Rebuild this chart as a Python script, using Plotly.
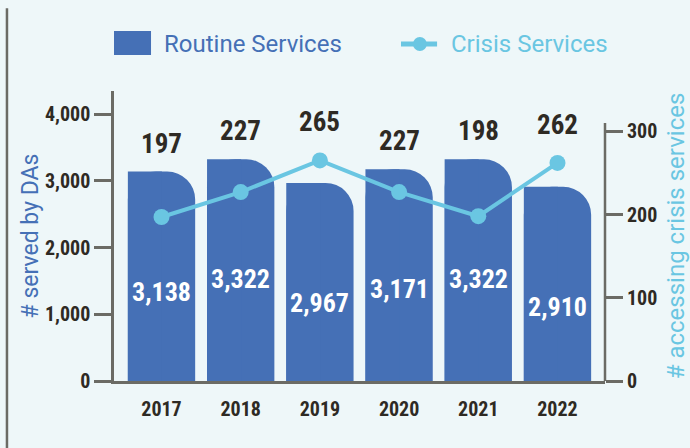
import plotly.graph_objects as go

years = ["2017", "2018", "2019", "2020", "2021", "2022"]
routine = [3138, 3322, 2967, 3171, 3322, 2910]
crisis = [197, 227, 265, 227, 198, 262]

BLUE = "#4570b6"
LIGHT = "#6ac6e2"
DARK = "#2e2a24"
GREY = "#6b6b65"
BG = "#eef7f9"
COND = "Roboto Condensed"

Y1_MAX = 4345
Y2_MAX = 348.4
Y2_LINE_TOP = 310

fig = go.Figure()

# full bar with rounded top corners, then a half-width bar to square off the left corner
fig.add_trace(go.Bar(x=years, y=routine, width=0.85,
                     marker=dict(color=BLUE, cornerradius=28, line=dict(width=0)),
                     showlegend=False, hoverinfo="skip"))
fig.add_trace(go.Bar(x=years, y=routine, width=0.43, offset=-0.425,
                     marker=dict(color=BLUE, line=dict(width=0)), showlegend=False))
fig.add_trace(go.Scatter(x=years, y=crisis, mode="lines+markers", yaxis="y2",
                         line=dict(color=LIGHT, width=4), marker=dict(color=LIGHT, size=16),
                         showlegend=False))

# value labels (x given as category index)
for i, (r, c) in enumerate(zip(routine, crisis)):
    pt = c * Y1_MAX / Y2_MAX
    top = max(r, pt)
    shift = 10 if r >= pt else 20
    fig.add_annotation(x=i, y=top, xref="x", yref="y", text=str(c), showarrow=False,
                       yanchor="bottom", yshift=shift,
                       font=dict(family=COND, size=27, color=DARK, weight="bold"))
    fig.add_annotation(x=i, y=r, xref="x", yref="y", text=f"{r:,}", showarrow=False,
                       yshift=-120, font=dict(family=COND, size=26, color="white", weight="bold"))

# legend drawn by hand
fig.add_shape(type="rect", xref="paper", yref="paper", x0=0.0, x1=0.0754, y0=1.124, y1=1.207,
              fillcolor=BLUE, line_width=0)
fig.add_annotation(xref="paper", yref="paper", x=0.098, y=1.162, xanchor="left", yanchor="middle",
                   showarrow=False, text="Routine Services",
                   font=dict(family="Roboto", size=24, color=BLUE))
fig.add_shape(type="line", xref="paper", yref="paper", x0=0.5845, x1=0.658, y0=1.162, y1=1.162,
              line=dict(color=LIGHT, width=5))
fig.add_shape(type="circle", xref="paper", yref="paper", x0=0.609, x1=0.637, y0=1.138, y1=1.186,
              fillcolor=LIGHT, line_width=0)
fig.add_annotation(xref="paper", yref="paper", x=0.682, y=1.162, xanchor="left", yanchor="middle",
                   showarrow=False, text="Crisis Services",
                   font=dict(family="Roboto", size=24, color=LIGHT))

# decorative side rule
fig.add_shape(type="line", xref="paper", yref="paper", x0=-0.218, x1=-0.218, y0=-0.25, y1=1.285,
              line=dict(color=GREY, width=2.5))

# right axis line stops at 310, not at the top of the plot
fig.add_shape(type="line", xref="paper", yref="y2", x0=1, x1=1, y0=0, y1=Y2_LINE_TOP,
              line=dict(color=GREY, width=2.5))

fig.update_layout(
    width=690, height=448,
    margin=dict(l=114, r=85, t=91, b=67),
    paper_bgcolor=BG, plot_bgcolor=BG,
    barmode="overlay",
    xaxis=dict(type="category", range=[-0.6, 5.6], showline=True, linecolor=GREY, linewidth=2.5,
               ticks="", showgrid=False, ticklabelstandoff=8, automargin=False,
               tickfont=dict(family=COND, size=20, color=DARK, weight="bold")),
    yaxis=dict(range=[0, Y1_MAX], tickvals=[0, 1000, 2000, 3000, 4000], tickformat=",",
               showline=True, linecolor=GREY, linewidth=2.5, ticks="outside", ticklen=17,
               tickwidth=2.5, tickcolor=GREY, showgrid=False, zeroline=False, automargin=False,
               tickfont=dict(family=COND, size=20, color=DARK, weight="bold"),
               title=dict(text="# served by DAs", standoff=0,
                          font=dict(family="Roboto", size=23, color=BLUE))),
    yaxis2=dict(range=[0, Y2_MAX], overlaying="y", side="right",
                tickvals=[0, 100, 200, 300], showline=False,
                ticks="outside", ticklen=17, tickwidth=2.5, tickcolor=GREY, showgrid=False,
                zeroline=False, automargin=False,
                tickfont=dict(family=COND, size=20, color=DARK, weight="bold"),
                title=dict(text="# accessing crisis services", standoff=16,
                           font=dict(family="Roboto", size=24, color=LIGHT))),
)

fig.write_html("out.html", config={"displayModeBar": False},
               post_script="document.body.style.margin='0';")
